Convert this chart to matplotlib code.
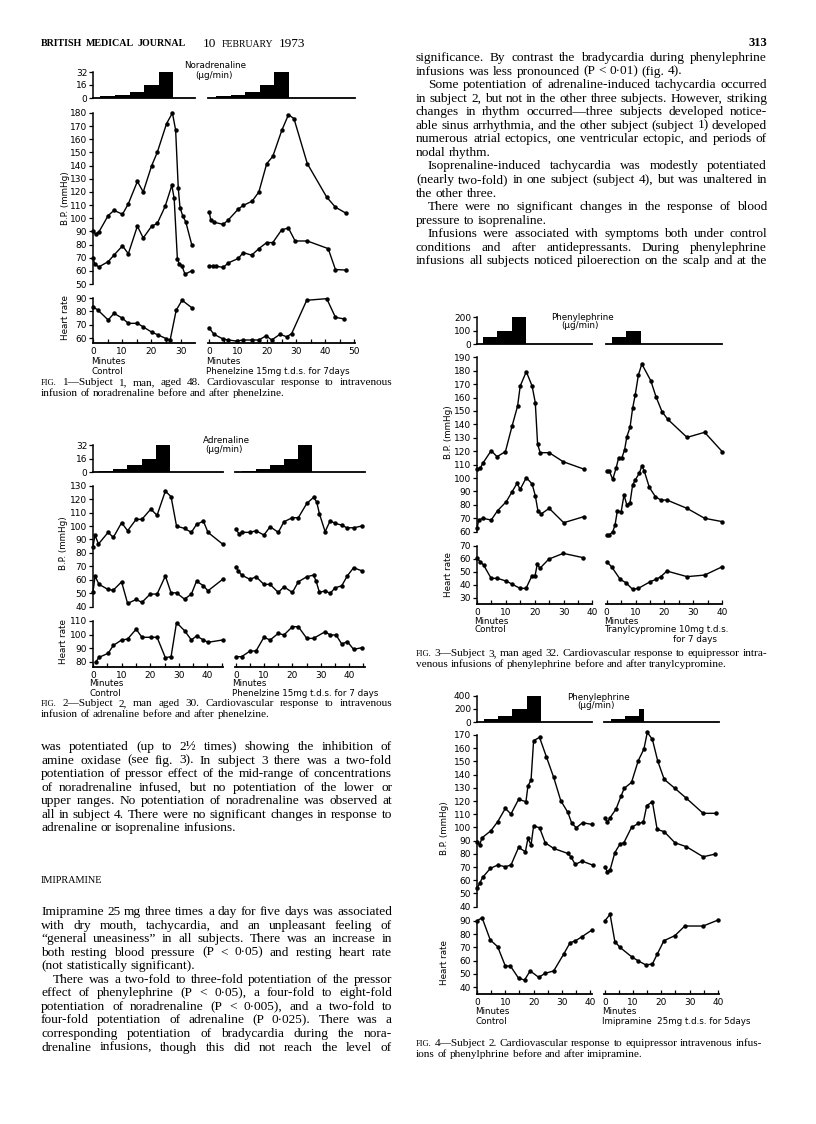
import matplotlib
matplotlib.use('Agg')
import matplotlib.pyplot as plt
from matplotlib.ticker import MultipleLocator

W, H = 816, 1124
fig = plt.figure(figsize=(W / 100, H / 100), dpi=100)
fig.patch.set_facecolor('white')

# ---------------- DATA ----------------
# Fig 1 (noradrenaline, subject 1)
f1c_sys_t = [0, 0.9, 2, 5.2, 7.2, 10.1, 12.1, 15.2, 17.2, 20.1, 22.0, 25.2, 27.2, 28.3, 29.2, 29.8, 30.7, 31.8, 33.8]
f1c_sys = [90, 88, 89.5, 102, 106, 103, 111, 128, 120, 140, 150, 172, 180, 167, 123, 108, 102, 97, 80]
f1c_dia_t = [0, 0.6, 2, 5.2, 7.2, 10.1, 12.1, 15.2, 17.2, 20.1, 22.0, 24.7, 27.0, 27.8, 28.9, 29.6, 30.4, 31.5, 33.8]
f1c_dia = [70, 65, 63, 67, 72, 79, 73, 94, 85, 94, 96, 109, 125, 115, 69, 65, 64, 57.5, 60]
f1c_hr_t = [0, 1.7, 5.2, 7.2, 10.1, 12.1, 15.2, 17, 20.1, 22.1, 25.1, 26.4, 28.5, 30.5, 33.9]
f1c_hr = [83.4, 80.9, 73.5, 78.5, 74.8, 71, 71, 68.6, 64.4, 62.5, 59.5, 58.3, 80.9, 88.3, 82.6]
f1p_sys_t = [0.1, 0.6, 1.7, 4.9, 6.7, 10.1, 11.8, 14.9, 17.2, 19.9, 22, 25.1, 27.4, 29.3, 33.9, 40.6, 43.6, 47.1]
f1p_sys = [104.6, 98.8, 97, 95.3, 98.8, 107, 109.7, 113, 120, 141.5, 147, 166.8, 178.7, 175.7, 141.5, 116, 108.4, 104]
f1p_dia_t = [0.1, 1.3, 2.4, 4.9, 6.7, 10.1, 11.8, 14.7, 17.2, 19.9, 22, 25.1, 27.4, 29.7, 33.9, 41.1, 43.6, 47.1]
f1p_dia = [63.6, 63.6, 63.6, 62.6, 66.1, 69.4, 73.9, 71.9, 76.9, 81.5, 81.5, 91.3, 92.5, 82.7, 82.7, 76.9, 61, 60.6]
f1p_hr_t = [0, 1.7, 4.9, 6.7, 9.5, 11.8, 14.9, 17.2, 19.7, 21.6, 24.5, 26.8, 28.5, 33.7, 40.6, 43.6, 46.6]
f1p_hr = [67.7, 62.8, 59.2, 58.5, 57.7, 58.5, 58.5, 58.5, 61.7, 58.5, 62.8, 60.9, 63.3, 88.3, 89.5, 75.5, 74.3]
f1_dose_start = [2.5, 7.5, 12.5, 17.5, 22.5]
f1_dose_width = [5, 5, 5, 5, 5]
f1_dose = [2, 4, 8, 16, 32]

# Fig 2 (adrenaline, subject 2)
f2c_sys_t = [0, 0.7, 1.9, 5.3, 7.1, 10, 12.1, 15.1, 17.1, 20.2, 22.4, 25.3, 27.3, 29.2, 32, 34.4, 36.2, 38.6, 40.2, 45.3]
f2c_sys = [84.6, 93.3, 86.6, 95.3, 91.5, 102.5, 96.5, 105, 105, 112.6, 108, 126, 121.8, 100, 98.2, 95.3, 101.2, 103.7, 95.3, 86.6]
f2c_dia_t = [0, 0.7, 2.1, 5.3, 7.1, 10, 12.1, 15.1, 17.1, 20, 22.4, 25.3, 27.3, 29.2, 32, 34.4, 36.2, 38.6, 40.2, 45.3]
f2c_dia = [50.6, 62.8, 56.6, 52.8, 52.3, 58.5, 42.4, 45.4, 43.2, 49.4, 49.4, 62.8, 50.3, 50.3, 45.6, 49.4, 59, 55.6, 51.8, 60.3]
f2c_hr_t = [0.9, 2.1, 5.3, 7.1, 10, 12.1, 15.1, 17.1, 20.2, 22.4, 25.3, 27.3, 29.2, 32, 34.4, 36.2, 38.6, 40.2, 45.3]
f2c_hr = [79.5, 83.2, 86.2, 92, 96, 96.7, 104, 98, 98, 98, 83, 83.7, 108.8, 102.9, 96, 99, 96, 94.3, 96]
f2p_sys_t = [0, 1.1, 2, 5, 7.1, 9.9, 12.1, 15, 17, 20, 22.1, 25.1, 27.5, 28.6, 29.6, 31.6, 33.4, 35.1, 37.5, 39.3, 41.7, 44.6]
f2p_sys = [97.7, 94, 95.3, 95.3, 96.5, 93.3, 99.5, 95.3, 103.2, 106.2, 106.2, 116.8, 121.3, 118, 109, 95.8, 104, 102, 100.7, 98.7, 98.7, 100]
f2p_dia_t = [0, 0.8, 2, 5, 7.1, 9.9, 12.1, 15, 17, 20, 22.1, 25.1, 27.5, 28.4, 29.6, 31.6, 33.4, 35.1, 37.5, 39.5, 41.7, 44.6]
f2p_dia = [69.7, 66.7, 63.5, 60.3, 62.3, 56.6, 56.6, 50.6, 54.8, 50.6, 58.5, 62.3, 63.5, 59, 50.6, 51.8, 49.9, 54, 55.6, 63, 69, 66.7]
f2p_hr_t = [0, 2, 5, 7.1, 9.9, 12.1, 15, 17, 20, 22.1, 25.1, 27.5, 31.6, 33.4, 35.5, 37.5, 39.5, 41.7, 44.6]
f2p_hr = [83.7, 83.7, 87.9, 87.9, 98, 96, 100.9, 99.7, 105.8, 105.8, 97.2, 97.2, 102.1, 99.7, 99.7, 93, 94.8, 89.1, 90.3]
f2_dose_start = [2, 7, 12, 17, 22]
f2_dose_width = [5, 5, 5, 5, 5]
f2_dose = [2, 4, 8, 16, 32]

# Fig 3 (phenylephrine, subject 3, tranylcypromine)
f3c_sys_t = [0, 1.1, 2, 4.9, 6.9, 9.8, 12.1, 14, 14.9, 17, 19, 20.1, 20.9, 21.8, 24.9, 29.7, 36.8]
f3c_sys = [106.7, 107.2, 111, 120.4, 115.9, 119.7, 138.8, 153.7, 168.6, 179.3, 168.6, 156.2, 125.1, 118.9, 118.9, 112.2, 106.7]
f3c_dia_t = [0, 0.6, 2, 4.9, 7.1, 10.1, 12.1, 13.8, 14.9, 17, 19, 20.1, 21, 22.1, 24.9, 29.9, 36.8]
f3c_dia = [62.5, 68.7, 70, 68.7, 75.7, 82.4, 89.8, 96, 91.6, 100.3, 95.6, 86.8, 75.7, 73.2, 77.4, 66.7, 71.2]
f3c_hr_t = [0, 1.1, 2.3, 4.9, 7.1, 10.1, 12.1, 14.9, 17, 19, 20.1, 20.9, 21.8, 24.9, 29.9, 36.8]
f3c_hr = [60.3, 57.7, 55.1, 44.9, 44.9, 42.8, 40.5, 37.2, 37.2, 46.7, 46.7, 55.9, 52.6, 59.7, 64.1, 60.8]
f3t_sys_t = [0, 0.9, 2.1, 3.3, 4.1, 5.2, 6.2, 7, 8.1, 9, 9.9, 11, 12.2, 15.3, 17.1, 19.2, 21.2, 27.9, 34, 40.1]
f3t_sys = [105.2, 105.2, 99, 107.7, 114.7, 114.7, 120.9, 130.8, 137.8, 152, 161.9, 176.8, 185, 172.6, 160.7, 149.5, 143.8, 130.3, 134.1, 119.7]
f3t_dia_t = [0, 0.9, 2.1, 2.9, 3.7, 5, 6, 7, 8.1, 9, 9.9, 11.3, 12.2, 13, 14.8, 16.9, 18.8, 20.9, 27.9, 34, 40.1]
f3t_dia = [57.5, 57.5, 60, 65, 75.7, 74.5, 87.3, 79.9, 81.6, 94.8, 98.5, 103.5, 109, 105.5, 93.1, 86.1, 83.6, 83.6, 77.4, 70, 67.5]
f3t_hr_t = [0, 1.7, 4.7, 6.7, 9, 11, 15.1, 17.1, 18.8, 20.9, 27.9, 34, 40.1]
f3t_hr = [57.7, 53.8, 44.1, 41.5, 36.4, 37.2, 42.3, 44.1, 46.2, 50.5, 46.2, 47.4, 53.8]
f3c_dose_start = [2, 7, 12]
f3c_dose_width = [5, 5, 5]
f3c_dose = [50, 100, 200]
f3t_dose_start = [2, 6.7]
f3t_dose_width = [4.7, 5.2]
f3t_dose = [50, 100]

# Fig 4 (phenylephrine, subject 2, imipramine)
f4c_sys_t = [0, 0.9, 1.8, 4.9, 7.3, 10, 12, 14.7, 17.3, 18, 19.1, 20, 22.1, 24.5, 27.1, 29.6, 32.1, 33.5, 35.1, 37.3, 40.6]
f4c_sys = [89.2, 86.7, 92.2, 97.5, 104.3, 114.4, 110.2, 121.3, 119.5, 131.4, 135.9, 165.7, 168.2, 153.6, 137.9, 120.3, 111.4, 103.1, 99.8, 103.6, 102.3]
f4c_dia_t = [0, 0.9, 2, 4.7, 7.3, 10, 12, 14.7, 17.1, 18, 19.1, 20, 22.1, 24.1, 27.1, 32, 33.2, 34.7, 37.1, 40.9]
f4c_dia = [53.8, 57.6, 62.2, 69, 71.5, 70.3, 71.5, 84.9, 81.6, 91.7, 86.7, 101.1, 99.8, 88.4, 84.1, 80.4, 77.8, 72, 74.5, 71.5]
f4c_hr_t = [0, 1.8, 4.7, 7.3, 10, 11.8, 14.7, 16.8, 18.8, 21.8, 24.1, 27.1, 30.6, 32.9, 34.7, 37.1, 40.6]
f4c_hr = [90, 92.2, 75.5, 70.5, 56, 56, 46.8, 45.5, 52.3, 47.5, 50.5, 52.3, 64.8, 73.5, 74.8, 78, 83]
f4i_sys_t = [0, 0.8, 1.8, 3.9, 5.7, 6.8, 9.4, 11.8, 13.8, 15, 16.8, 18.7, 21, 24.8, 28.9, 34.8, 39.3]
f4i_sys = [107.4, 103.8, 107.4, 113.9, 123.8, 129.6, 134.1, 150.6, 159.4, 172, 166.7, 150.3, 136.4, 129.6, 122, 110.7, 110.7]
f4i_dia_t = [0, 0.8, 1.8, 3.5, 5.3, 6.7, 9.4, 11.8, 13.6, 14.8, 16.8, 18.5, 21, 24.8, 28.9, 34.8, 39]
f4i_dia = [70.3, 66.5, 67.8, 81, 87.4, 88.5, 100, 103, 104, 116.5, 119.5, 98.5, 96.8, 88.4, 85.4, 77.8, 79.8]
f4i_hr_t = [0, 1.8, 3.5, 5.3, 9.4, 11.8, 14.5, 16.8, 18.5, 20.9, 24.8, 28.3, 34.8, 40.1]
f4i_hr = [90, 94.8, 74.3, 70, 63, 59.8, 56.8, 57.5, 64.8, 75, 78.8, 86, 86, 90.5]
f4c_dose_start = [2.5, 7.5, 12.5, 17.5]
f4c_dose_width = [5, 5, 5, 5]
f4c_dose = [50, 100, 200, 400]
f4i_dose_start = [2, 7, 12]
f4i_dose_width = [5, 5, 2]
f4i_dose = [50, 100, 200]

# ---------------- HELPERS ----------------
LW = 1.0
SANS = 'DejaVu Sans'
SERIF = 'Liberation Serif'
TICK_FS = 6.5
LAB_FS = 6.3


def vmap(v, ref):
    (v1, p1), (v2, p2) = ref
    return p1 + (v - v1) * (p2 - p1) / (v2 - v1)


def panel(xp, yr, left, bottom, yticks=None, xticks=None):
    x0, ppm, xmin, xmax = xp
    ref, ylo, yhi = yr
    xl, xr = x0 + xmin * ppm, x0 + xmax * ppm
    yt, yb = vmap(yhi, ref), vmap(ylo, ref)
    ax = fig.add_axes([xl / W, 1 - yb / H, (xr - xl) / W, (yb - yt) / H])
    ax.set_xlim(xmin, xmax)
    ax.set_ylim(ylo, yhi)
    ax.patch.set_visible(False)
    for s in ('top', 'right'):
        ax.spines[s].set_visible(False)
    ax.spines['left'].set_visible(left)
    ax.spines['bottom'].set_visible(bottom)
    ax.spines['left'].set_linewidth(1.1)
    ax.spines['bottom'].set_linewidth(1.3)
    if left and yticks is not None:
        ax.set_yticks(yticks)
        ax.set_yticklabels([str(v) for v in yticks], family=SANS, fontsize=TICK_FS)
        ax.spines['left'].set_bounds(ylo, yticks[-1])
        ax.tick_params(axis='y', direction='out', length=3, width=0.9, pad=1.2)
    else:
        ax.set_yticks([])
    if xticks is not None:
        ax.set_xticks(xticks)
        ax.set_xticklabels([str(v) for v in xticks], family=SANS, fontsize=TICK_FS)
        ax.xaxis.set_minor_locator(MultipleLocator(5))
        ax.tick_params(axis='x', which='both', direction='in', length=3, width=0.9, pad=3.0)
        ax.spines['bottom'].set_bounds(xmin, xmax)
    else:
        ax.set_xticks([])
    return ax


def series(ax, t, v):
    ax.plot(t, v, color='black', lw=LW, marker='o', ms=2.2, clip_on=False)


def bars(ax, start, width, vals):
    ax.bar(start, vals, width=width, align='edge', color='black', linewidth=0)


def ptext(x, y, s, size=LAB_FS, ha='left', va='center', family=SANS, rot=0, weight='normal'):
    fig.text(x / W, 1 - y / H, s, fontsize=size, ha=ha, va=va, family=family,
             rotation=rot, weight=weight)


def build(xL, xR, rbar, rbp, rhr, ytb, ytbp, ythr, xtL, xtR, dL, dR, cL, cR):
    a = panel(xL, rbar, True, True, yticks=ytb)
    bars(a, *dL)
    a = panel(xR, rbar, False, True)
    bars(a, *dR)
    a = panel(xL, rbp, True, False, yticks=ytbp)
    series(a, cL[0], cL[1]); series(a, cL[2], cL[3])
    a = panel(xR, rbp, False, False)
    series(a, cR[0], cR[1]); series(a, cR[2], cR[3])
    a = panel(xL, rhr, True, True, yticks=ythr, xticks=xtL)
    series(a, cL[4], cL[5])
    a = panel(xR, rhr, False, True, xticks=xtR)
    series(a, cR[4], cR[5])


# ---------------- FIGURE 1 ----------------
build((93, 2.92, 0, 34.8), (209, 2.9, -0.3, 50.4),
      (((0, 98), (32, 72)), 0, 32), (((50, 284), (180, 113)), 50, 180), (((60, 338), (90, 298)), 56.2, 90),
      [0, 16, 32], list(range(50, 181, 10)), [60, 70, 80, 90], [0, 10, 20, 30], [0, 10, 20, 30, 40, 50],
      (f1_dose_start, f1_dose_width, f1_dose), (f1_dose_start, f1_dose_width, f1_dose),
      (f1c_sys_t, f1c_sys, f1c_dia_t, f1c_dia, f1c_hr_t, f1c_hr),
      (f1p_sys_t, f1p_sys, f1p_dia_t, f1p_dia, f1p_hr_t, f1p_hr))
ptext(215, 66, 'Noradrenaline', ha='center')
ptext(214, 76, '(µg/min)', ha='center')
ptext(65, 198, 'B.P. (mmHg)', rot=90, ha='center')
ptext(65, 318, 'Heart rate', rot=90, ha='center')
ptext(91, 362, 'Minutes'); ptext(91, 371, 'Control')
ptext(206, 362, 'Minutes'); ptext(206, 371, 'Phenelzine 15mg t.d.s. for 7days')

# ---------------- FIGURE 2 ----------------
build((93, 2.86, 0, 45.5), (236, 2.82, -0.3, 45.9),
      (((0, 472.3), (32, 445)), 0, 32), (((40, 606.7), (130, 485.7)), 40, 130), (((80, 661.7), (110, 621)), 76.1, 110),
      [0, 16, 32], list(range(40, 131, 10)), [80, 90, 100, 110], [0, 10, 20, 30, 40], [0, 10, 20, 30, 40],
      (f2_dose_start, f2_dose_width, f2_dose), (f2_dose_start, f2_dose_width, f2_dose),
      (f2c_sys_t, f2c_sys, f2c_dia_t, f2c_dia, f2c_hr_t, f2c_hr),
      (f2p_sys_t, f2p_sys, f2p_dia_t, f2p_dia, f2p_hr_t, f2p_hr))
ptext(226, 440, 'Adrenaline', ha='center')
ptext(224, 449, '(µg/min)', ha='center')
ptext(64, 543, 'B.P. (mmHg)', rot=90, ha='center')
ptext(64, 642, 'Heart rate', rot=90, ha='center')
ptext(89, 684, 'Minutes'); ptext(89, 693, 'Control')
ptext(232, 684, 'Minutes'); ptext(232, 693, 'Phenelzine 15mg t.d.s. for 7 days')

# ---------------- FIGURE 3 ----------------
build((477, 2.9, 0, 39.8), (606.7, 2.88, -0.3, 40.2),
      (((0, 344), (200, 317.3)), 0, 200), (((60, 531.7), (190, 357.3)), 60, 190), (((30, 597.7), (70, 545.7)), 25.2, 70),
      [0, 100, 200], list(range(60, 191, 10)), [30, 40, 50, 60, 70], [0, 10, 20, 30, 40], [0, 10, 20, 30, 40],
      (f3c_dose_start, f3c_dose_width, f3c_dose), (f3t_dose_start, f3t_dose_width, f3t_dose),
      (f3c_sys_t, f3c_sys, f3c_dia_t, f3c_dia, f3c_hr_t, f3c_hr),
      (f3t_sys_t, f3t_sys, f3t_dia_t, f3t_dia, f3t_hr_t, f3t_hr))
ptext(582, 318, 'Phenylephrine', ha='center')
ptext(580, 326, '(µg/min)', ha='center')
ptext(448, 432, 'B.P. (mmHg)', rot=90, ha='center')
ptext(448, 575, 'Heart rate', rot=90, ha='center')
ptext(474, 621, 'Minutes'); ptext(474, 630, 'Control')
ptext(604, 621, 'Minutes'); ptext(604, 630, 'Tranylcypromine 10mg t.d.s.')
ptext(717, 639, 'for 7 days', ha='right')

# ---------------- FIGURE 4 ----------------
build((477, 2.83, 0, 40.5), (605, 2.82, -0.3, 40.3),
      (((0, 722.3), (400, 695.7)), 0, 400), (((40, 906.7), (170, 735)), 40, 170), (((40, 987.3), (90, 920.7)), 35, 90),
      [0, 200, 400], list(range(40, 171, 10)), [40, 50, 60, 70, 80, 90], [0, 10, 20, 30, 40], [0, 10, 20, 30, 40],
      (f4c_dose_start, f4c_dose_width, f4c_dose), (f4i_dose_start, f4i_dose_width, f4i_dose),
      (f4c_sys_t, f4c_sys, f4c_dia_t, f4c_dia, f4c_hr_t, f4c_hr),
      (f4i_sys_t, f4i_sys, f4i_dia_t, f4i_dia, f4i_hr_t, f4i_hr))
ptext(598, 697, 'Phenylephrine', ha='center')
ptext(596, 706, '(µg/min)', ha='center')
ptext(445, 828, 'B.P. (mmHg)', rot=90, ha='center')
ptext(445, 963, 'Heart rate', rot=90, ha='center')
ptext(475, 1012, 'Minutes'); ptext(475, 1022, 'Control')
ptext(602, 1012, 'Minutes'); ptext(602, 1022, 'Imipramine  25mg t.d.s. for 5days')

# ---------------- TEXT ----------------
R = fig.canvas.get_renderer()
_wcache = {}


def wwidth(word, size, family=SERIF, weight='normal'):
    key = (word, family, weight)
    if key not in _wcache:
        t = fig.text(0, 0, word, fontsize=10, family=family, weight=weight)
        _wcache[key] = t.get_window_extent(renderer=R).width
        t.remove()
    return _wcache[key] * size / 10.0


def fit_size(blocks, min_gap=0.24):
    """Largest font size for which every justified line fits with a minimum word gap."""
    best = 20.0
    for lines, x0, x1, ind in blocks:
        for i, ln in enumerate(lines[:-1]):
            words = ln.split()
            avail = x1 - x0 - (ind if i == 0 else 0)
            w10 = sum(wwidth(w, 10) for w in words) / 10.0
            s = avail / (w10 + min_gap * (100 / 72) * (len(words) - 1))
            best = min(best, s)
    return best


def put_line(words, x0, x1, yc, size, justify=True, indent=0, family=SERIF, weight='normal'):
    items = [w if isinstance(w, tuple) else (w, size) for w in words]
    ts = [fig.text(0, 0, w, fontsize=s, family=family, weight=weight, va='baseline', ha='left')
          for w, s in items]
    ws = [t.get_window_extent(renderer=R).width for t in ts]
    em = size * 100 / 72
    base = yc + 0.3 * em
    xs = x0 + indent
    if justify and len(ts) > 1:
        gap = (x1 - xs - sum(ws)) / (len(ts) - 1)
    else:
        gap = 0.26 * em
    x = xs
    for t, w in zip(ts, ws):
        t.set_position((x / W, 1 - base / H))
        x += w + gap


def paragraph(lines, x0, x1, y0, dy, size, indent_first=0, last_just=False):
    for i, ln in enumerate(lines):
        just = (i < len(lines) - 1) or last_just
        put_line(ln.split(), x0, x1, y0 + i * dy, size, justify=just,
                 indent=indent_first if i == 0 else 0)


DY = 13.55
IND = 12

rc_pars = [
    (["significance. By contrast the bradycardia during phenylephrine",
      "infusions was less pronounced (P < 0·01) (fig. 4)."], 0, False),
    (["Some potentiation of adrenaline-induced tachycardia occurred",
      "in subject 2, but not in the other three subjects. However, striking",
      "changes in rhythm occurred—three subjects developed notice-",
      "able sinus arrhythmia, and the other subject (subject 1) developed",
      "numerous atrial ectopics, one ventricular ectopic, and periods of",
      "nodal rhythm."], IND, False),
    (["Isoprenaline-induced tachycardia was modestly potentiated",
      "(nearly two-fold) in one subject (subject 4), but was unaltered in",
      "the other three."], IND, False),
    (["There were no significant changes in the response of blood",
      "pressure to isoprenaline."], IND, False),
    (["Infusions were associated with symptoms both under control",
      "conditions and after antidepressants. During phenylephrine",
      "infusions all subjects noticed piloerection on the scalp and at the"], IND, True),
]
lc1 = ["was potentiated (up to 2½ times) showing the inhibition of",
       "amine oxidase (see fig. 3). In subject 3 there was a two-fold",
       "potentiation of pressor effect of the mid-range of concentrations",
       "of noradrenaline infused, but no potentiation of the lower or",
       "upper ranges. No potentiation of noradrenaline was observed at",
       "all in subject 4. There were no significant changes in response to",
       "adrenaline or isoprenaline infusions."]
lc2 = ["Imipramine 25 mg three times a day for five days was associated",
       "with dry mouth, tachycardia, and an unpleasant feeling of",
       "“general uneasiness” in all subjects. There was an increase in",
       "both resting blood pressure (P < 0·05) and resting heart rate",
       "(not statistically significant)."]
lc3 = ["There was a two-fold to three-fold potentiation of the pressor",
       "effect of phenylephrine (P < 0·05), a four-fold to eight-fold",
       "potentiation of noradrenaline (P < 0·005), and a two-fold to",
       "four-fold potentiation of adrenaline (P 0·025). There was a",
       "corresponding potentiation of bradycardia during the nora-",
       "drenaline infusions, though this did not reach the level of"]

blocks = [(p[0], 416, 767, p[1]) for p in rc_pars]
blocks += [(lc1, 41, 392, 0), (lc2, 41, 392, 0), (lc3 + ['x'], 41, 392, IND)]
BODY = min(10.5, fit_size(blocks))

# header
put_line([('BRITISH', 7.2), ('MEDICAL', 7.2), ('JOURNAL', 7.2)], 41, 186, 43, 7.2, justify=True, weight='bold')
put_line([('10', 9.5), ('FEBRUARY', 7.0), ('1973', 9.5)], 203, 305, 43, 9.5, justify=True)
ptext(767, 43, '313', size=9, ha='right', family=SERIF, weight='bold')

# right column top
y = 57
for lines, ind, lastj in rc_pars:
    paragraph(lines, 416, 767, y, DY, BODY, indent_first=ind, last_just=lastj)
    y += DY * len(lines)

# left column bottom
paragraph(lc1, 41, 392, 746, DY, BODY)
put_line([('IMIPRAMINE', 7.4)], 41, 392, 880, 7.4, justify=False)
paragraph(lc2, 41, 392, 911, DY, BODY)
paragraph(lc3, 41, 392, 911 + 5 * DY, DY, BODY, indent_first=IND, last_just=True)

# captions
cap_lines = [
    ("FIG. 1—Subject 1, man, aged 48. Cardiovascular response to intravenous",
     "infusion of noradrenaline before and after phenelzine.", 41, 392, 382),
    ("FIG. 2—Subject 2, man aged 30. Cardiovascular response to intravenous",
     "infusion of adrenaline before and after phenelzine.", 41, 392, 703),
    ("FIG. 3—Subject 3, man aged 32. Cardiovascular response to equipressor intra-",
     "venous infusions of phenylephrine before and after tranylcypromine.", 416, 767, 653),
    ("FIG. 4—Subject 2. Cardiovascular response to equipressor intravenous infus-",
     "ions of phenylphrine before and after imipramine.", 416, 762, 1043),
]
CAP = min(9.0, fit_size([([c[0][5:], 'x'], c[2] + 22, c[3], 0) for c in cap_lines], min_gap=0.22))
CDY = 11
for first, second, x0, x1, y0 in cap_lines:
    w = first.split()
    put_line([(w[0], CAP * 0.75)] + w[1:], x0, x1, y0, CAP, justify=True)
    put_line(second.split(), x0, x1, y0 + CDY, CAP, justify=False)

fig.savefig('out.png', dpi=100, facecolor='white')
